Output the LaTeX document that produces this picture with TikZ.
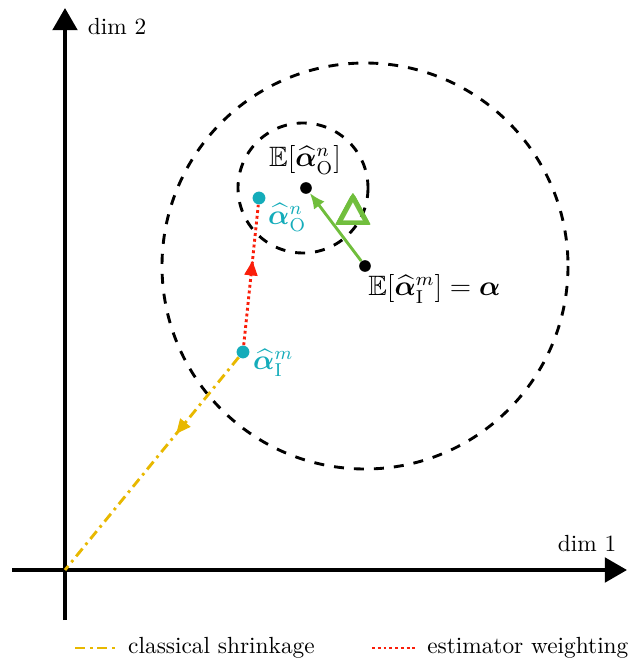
\documentclass[tikz,border=0pt]{standalone}
\usepackage{amsmath,amssymb,bm}
\usetikzlibrary{arrows.meta,decorations.markings}
\definecolor{cyanpt}{RGB}{20,172,186}
\definecolor{greenarr}{RGB}{112,190,60}
\definecolor{yellowsh}{RGB}{232,184,0}
\definecolor{redw}{RGB}{250,30,10}
\tikzset{
  axis/.style={line width=1.8pt, -{Triangle[length=10pt,width=11pt]}},
  ball/.style={line width=1.3pt, dash pattern=on 4.5pt off 4.5pt},
  pt/.style={circle, fill, inner sep=0pt, minimum size=5pt},
  shrink/.style={yellowsh, line width=1.3pt, dash pattern=on 4.5pt off 2.2pt on 1.2pt off 2.2pt},
  weight/.style={redw, line width=1.3pt, dash pattern=on 1.3pt off 1.3pt},
  midarrow/.style={postaction={decorate}, decoration={markings,
    mark=at position #1 with {\arrow[line width=0.5pt, solid]{Triangle[length=6.5pt,width=6pt]}}}},
  lbl/.style={font=\large}
}
\begin{document}
\begin{tikzpicture}[x=0.45pt, y=-0.45pt, every node/.style={scale=1.05}]
    \useasboundingbox (0,0) rectangle (638,658);
    % Axes
    \coordinate (o) at (65,570);
    \coordinate (xs) at (12,570);
    \coordinate (xe) at (627,570);
    \coordinate (ys) at (65,620);
    \coordinate (ye) at (65,8);
    \draw[axis] (xs) -- (xe);
    \draw[axis] (ys) -- (ye);
    \node (dimA) at (587,544) {dim 1};
    \node (dimB) at (117,27) {dim 2};

    % Boules
    \node[pt] (eI) at (365,266) {};
    \node[pt] (eO) at (306,188) {};
    \draw[ball] (eI) circle (203);
    \draw[ball] (303,188) circle (65);
    \node[lbl] (leO) at (305,160) {$\mathbb{E}[\widehat{\bm{\alpha}}^n_{\text{O}}]$};
    \node[lbl, anchor=west] (leI) at (360,289) {$\mathbb{E}[\widehat{\bm{\alpha}}^m_{\text{I}}] = \bm{\alpha}$};

    % Biais
    \draw[greenarr, line width=1.3pt, -{Latex[length=7pt,width=6pt]}] (eI) -- (eO);
    \node[greenarr, font=\LARGE] (delta) at (355,214) {$\pmb{\pmb{\triangle}}$};

    % Estimateurs
    \node[pt, cyanpt, minimum size=5.5pt] (aI) at (243,352) {};
    \node[pt, cyanpt, minimum size=5.5pt] (aO) at (259,198) {};
    \node[lbl, cyanpt, anchor=west] (laO) at (260,218) {$\widehat{\bm{\alpha}}^n_{\text{O}}$};
    \node[lbl, cyanpt, anchor=west] (laI) at (245,363) {$\widehat{\bm{\alpha}}^m_{\text{I}}$};
    \draw[weight, midarrow=0.60] (aI) -- (aO);
    \draw[shrink, midarrow=0.36] (aI) -- (o);

    % Legende
    \coordinate (lgA) at (75,648);
    \coordinate (lgB) at (118,648);
    \coordinate (lgC) at (372,648);
    \coordinate (lgD) at (415,648);
    \draw[shrink] (lgA) -- (lgB);
    \node[anchor=west] (tA) at (120,648) {classical shrinkage};
    \draw[weight] (lgC) -- (lgD);
    \node[anchor=west] (tB) at (419,648) {estimator weighting};
\end{tikzpicture}
\end{document}
